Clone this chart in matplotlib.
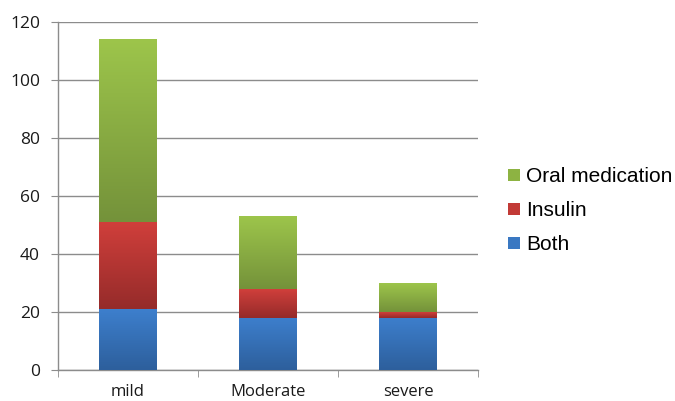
import numpy as np
import matplotlib
matplotlib.use("Agg")
import matplotlib.pyplot as plt
from matplotlib.colors import LinearSegmentedColormap
from matplotlib.patches import Patch

categories = ["mild", "Moderate", "severe"]
both = [21, 18, 18]
insulin = [30, 10, 2]
oral = [63, 25, 10]
series_names = ["Both", "Insulin", "Oral medication"]
y_ticks = [0, 20, 40, 60, 80, 100, 120]

# (top colour, bottom colour) of each series' vertical gradient
gradients = {
    "Both": ("#3d7fcd", "#2d5f9c"),
    "Insulin": ("#d03f3b", "#952b2a"),
    "Oral medication": ("#9dc54b", "#74923a"),
}
flat = {"Both": "#3a78c2", "Insulin": "#c23a36", "Oral medication": "#8db342"}

fig = plt.figure(figsize=(6.75, 4.01), dpi=100)
ax = fig.add_axes([58 / 675, 1 - 370 / 401, 420 / 675, 348 / 401])

x = np.arange(len(categories))
width = 0.41
bottom = np.zeros(len(categories))
for name, vals in zip(series_names, [both, insulin, oral]):
    vals = np.asarray(vals, dtype=float)
    bars = ax.bar(x, vals, width, bottom=bottom, color="none", edgecolor="none", zorder=3)
    top_c, bot_c = gradients[name]
    cmap = LinearSegmentedColormap.from_list(name, [bot_c, top_c])
    grad = np.linspace(0, 1, 256).reshape(-1, 1)
    for rect in bars:
        x0, y0 = rect.get_x(), rect.get_y()
        w, h = rect.get_width(), rect.get_height()
        if h <= 0:
            continue
        im = ax.imshow(grad, cmap=cmap, origin="lower", aspect="auto",
                       extent=(x0, x0 + w, y0, y0 + h), zorder=3)
        im.set_clip_path(rect)
    bottom += vals

ax.set_xlim(-0.5, len(categories) - 0.5)
ax.set_ylim(0, 120)
ax.set_yticks(y_ticks)
ax.set_xticks(x)
ax.set_xticklabels(categories)
ax.set_xticks(np.arange(len(categories) + 1) - 0.5, minor=True)

grid_c = "#8c8c8c"
ax.yaxis.grid(True, color=grid_c, linewidth=1.0, zorder=0)
ax.set_axisbelow(True)
for s in ["top", "right"]:
    ax.spines[s].set_visible(False)
for s in ["left", "bottom"]:
    ax.spines[s].set_color(grid_c)
    ax.spines[s].set_linewidth(1.0)

ax.tick_params(axis="y", length=5, color=grid_c, labelsize=12.5, pad=8)
ax.tick_params(axis="x", which="major", length=0, labelsize=12, pad=10)
ax.tick_params(axis="x", which="minor", length=5, color=grid_c)
for lab in ax.get_yticklabels() + ax.get_xticklabels():
    lab.set_fontfamily("Open Sans")
    lab.set_color("#1a1a1a")

handles = [Patch(facecolor=flat[n], edgecolor="none") for n in reversed(series_names)]
leg = fig.legend(handles, list(reversed(series_names)), loc="upper left",
                 bbox_to_anchor=(500 / 675, 1 - 159 / 401), frameon=False,
                 prop={"family": "Liberation Sans", "size": 15},
                 handlelength=0.55, handleheight=0.55, handletextpad=0.3,
                 labelspacing=0.72, borderaxespad=0)

fig.savefig("out.png", dpi=100)
